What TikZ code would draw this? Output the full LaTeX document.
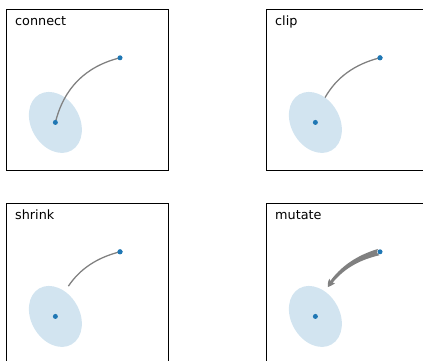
\documentclass[tikz,border=0pt]{standalone}
\usepackage{fontspec}
\setmainfont{DejaVu Sans}
\usetikzlibrary{shapes.geometric}
\definecolor{czero}{HTML}{1F77B4}
\colorlet{cfill}{czero!20!white}
\definecolor{cgray}{rgb}{0.5,0.5,0.5}
\tikzset{
  dotst/.style={circle, fill=czero, inner sep=0pt, minimum size=5pt},
  elst/.style={ellipse, fill=cfill, inner sep=0pt, outer sep=0pt, minimum width=48.48pt, minimum height=64.64pt, rotate=30},
  conn/.style={draw=cgray, line width=1.28pt},
  fancyst/.style={draw=cgray, fill=cgray, line width=1.28pt, line join=miter},
  spine/.style={draw=black, line width=1.02pt},
  labelst/.style={anchor=base west, inner sep=0pt, font=\fontsize{12.8}{15}\selectfont},
}
\begin{document}
\begin{tikzpicture}[x=1pt,y=1pt,
  declare function={
    bx(\s)=(1-\s)*(1-\s)*113.12+2*\s*(1-\s)*61.408+\s*\s*48.48;
    by(\s)=(1-\s)*(1-\s)*113.12+2*\s*(1-\s)*100.192+\s*\s*48.48;
    dbx(\s)=2*(1-\s)*(-51.712)+2*\s*(-12.928);
    dby(\s)=2*(1-\s)*(-12.928)+2*\s*(-51.712);
    nnx(\s)=-dby(\s)/veclen(dbx(\s),dby(\s));
    nny(\s)=dbx(\s)/veclen(dbx(\s),dby(\s));
    tu(\s)=(\s-0.024)/0.5968;
    tw(\s)=2.56*(1-tu(\s))*(1-tu(\s))+2.816*tu(\s)*(1-tu(\s))+0.768*tu(\s)*tu(\s);
    hv(\s)=(\s-0.6097)/0.0553;
    hw(\s)=2.56*(1-hv(\s))*(1-hv(\s))+3.584*hv(\s)*(1-hv(\s));
  }]
\useasboundingbox (0,0) rectangle (423,-360);

% ---------- panel 1: connect ----------
\begin{scope}[shift={(6.9,-170.9)}]
  \node[elst] (el1) at (48.48,48.48) {};
  \draw[conn] (113.12,113.12) .. controls (78.645,104.501) and (57.099,82.955) .. (48.48,48.48);
  \node[dotst] (a1) at (113.12,113.12) {};
  \node[dotst] (b1) at (48.48,48.48) {};
  \draw[spine] (0,0) rectangle (161.6,161.6);
  \node[labelst] (t1) at (8.1,145.1) {connect};
\end{scope}

% ---------- panel 2: clip ----------
\begin{scope}[shift={(266.9,-170.9)}]
  \node[elst] (el2) at (48.48,48.48) {};
  \coordinate (e2) at (58.148,73.329);
  \node[dotst] (a2) at (113.12,113.12) {};
  \node[dotst] (b2) at (48.48,48.48) {};
  \draw[conn] (a2.center) .. controls (87.85,106.80) and (69.526,93.539) .. (e2);
  \node[dotst] at (a2.center) {};
  \draw[spine] (0,0) rectangle (161.6,161.6);
  \node[labelst] (t2) at (8.1,145.1) {clip};
\end{scope}

% ---------- panel 3: shrink ----------
\begin{scope}[shift={(6.9,-364.9)}]
  \node[elst] (el3) at (48.48,48.48) {};
  \coordinate (e3) at (61.494,78.774);
  \node[dotst] (a3) at (113.12,113.12) {};
  \node[dotst] (b3) at (48.48,48.48) {};
  \draw[conn] (a3.center) .. controls (90.195,107.389) and (72.986,95.940) .. (e3);
  \node[dotst] at (a3.center) {};
  \draw[spine] (0,0) rectangle (161.6,161.6);
  \node[labelst] (t3) at (8.1,145.1) {shrink};
\end{scope}

% ---------- panel 4: mutate ----------
\begin{scope}[shift={(266.9,-364.9)}]
  \node[elst] (el4) at (48.48,48.48) {};
  \node[dotst] (a4) at (113.12,113.12) {};
  \node[dotst] (b4) at (48.48,48.48) {};
  \filldraw[fancyst]
    ({bx(0.0386)},{by(0.0386)})
    -- plot[domain=0.024:0.6208, samples=30, variable=\t] ({bx(\t)-tw(\t)*nnx(\t)},{by(\t)-tw(\t)*nny(\t)})
    -- plot[domain=0.6097:0.665, samples=12, variable=\t] ({bx(\t)-hw(\t)*nnx(\t)},{by(\t)-hw(\t)*nny(\t)})
    -- plot[domain=0.665:0.6097, samples=12, variable=\t] ({bx(\t)+hw(\t)*nnx(\t)},{by(\t)+hw(\t)*nny(\t)})
    -- plot[domain=0.6208:0.024, samples=30, variable=\t] ({bx(\t)+tw(\t)*nnx(\t)},{by(\t)+tw(\t)*nny(\t)})
    -- cycle;
  \draw[spine] (0,0) rectangle (161.6,161.6);
  \node[labelst] (t4) at (8.1,145.1) {mutate};
\end{scope}
\end{tikzpicture}
\end{document}
